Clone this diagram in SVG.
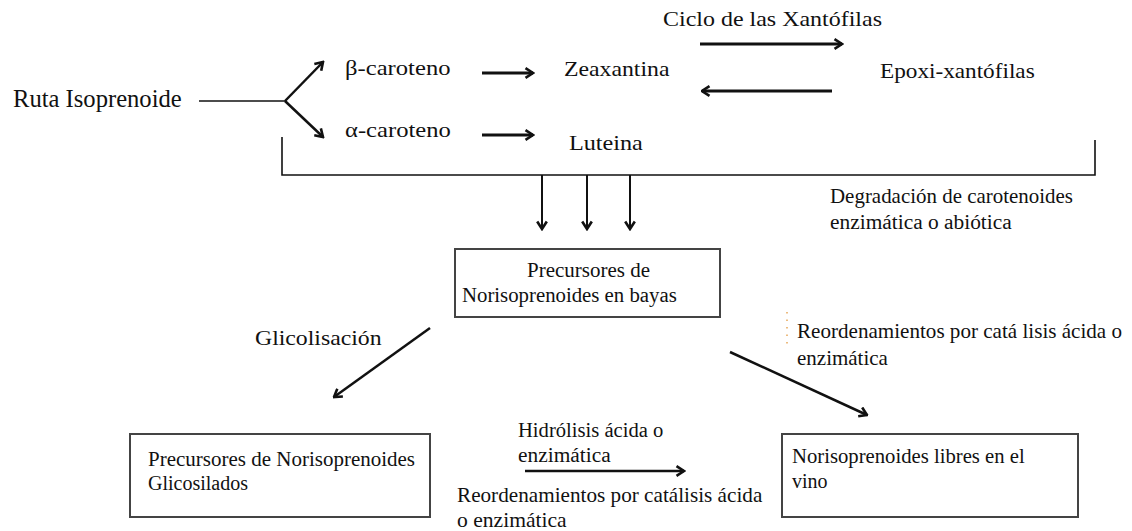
<svg xmlns="http://www.w3.org/2000/svg" width="1132" height="531" viewBox="0 0 1132 531">
<style>
  text { font-family: "Liberation Serif", "Times New Roman", serif; fill: #111; }
  .t24 { font-size: 24.6px; }
  .t22 { font-size: 22px; }
  .t20 { font-size: 20px; }
  .box { fill: #fff; stroke: #444; stroke-width: 2; }
  .ln { fill: none; stroke: #111; }
</style>
<defs>
  <marker id="ah" viewBox="0 0 12 12" markerUnits="userSpaceOnUse" markerWidth="12" markerHeight="12" refX="10.5" refY="6" orient="auto">
    <path d="M3,1.2 L10.5,6 L3,10.8" fill="none" stroke="#111" stroke-width="2.6" stroke-linejoin="miter"/>
  </marker>
</defs>
<rect width="1132" height="531" fill="#fff"/>

<g id="connectors">
  <line class="ln" x1="199" y1="101" x2="285" y2="101" stroke-width="1.5"/>
  <line class="ln" x1="285" y1="101" x2="323" y2="62" stroke-width="2.5" marker-end="url(#ah)"/>
  <line class="ln" x1="285" y1="101" x2="323" y2="137" stroke-width="2.5" marker-end="url(#ah)"/>
  <line class="ln" x1="482" y1="73" x2="533" y2="73" stroke-width="3" marker-end="url(#ah)"/>
  <line class="ln" x1="482" y1="135" x2="533" y2="135" stroke-width="3" marker-end="url(#ah)"/>
  <line class="ln" x1="700" y1="44" x2="842" y2="44" stroke-width="3" marker-end="url(#ah)"/>
  <line class="ln" x1="832" y1="91" x2="702" y2="91" stroke-width="3" marker-end="url(#ah)"/>
  <polyline class="ln" points="282,137 282,175 1095,175 1095,140" stroke="#333" stroke-width="1.6"/>
  <line class="ln" x1="542" y1="175" x2="542" y2="229" stroke-width="2" marker-end="url(#ah)"/>
  <line class="ln" x1="587" y1="175" x2="587" y2="229" stroke-width="2" marker-end="url(#ah)"/>
  <line class="ln" x1="630" y1="175" x2="630" y2="229" stroke-width="2" marker-end="url(#ah)"/>
  <line class="ln" x1="430" y1="328" x2="334" y2="397" stroke-width="2.5" marker-end="url(#ah)"/>
  <line class="ln" x1="730" y1="352" x2="867" y2="415" stroke-width="2.5" marker-end="url(#ah)"/>
  <line class="ln" x1="525" y1="471" x2="684" y2="471" stroke-width="2.5" marker-end="url(#ah)"/>
  <line x1="787" y1="312" x2="787" y2="347" stroke="#e0902e" stroke-width="1.2" stroke-dasharray="1.5 6"/>
</g>

<g id="ruta">
  <text class="t24" x="13" y="107">Ruta Isoprenoide</text>
</g>
<g id="beta-caroteno">
  <text class="t22" transform="translate(345 75) scale(1.12 1)">β-caroteno</text>
</g>
<g id="alfa-caroteno">
  <text class="t22" transform="translate(345 137) scale(1.12 1)">α-caroteno</text>
</g>
<g id="zeaxantina">
  <text class="t22" transform="translate(564 76) scale(1.08 1)">Zeaxantina</text>
</g>
<g id="luteina">
  <text class="t22" transform="translate(569 150) scale(1.1 1)">Luteina</text>
</g>
<g id="ciclo">
  <text class="t22" transform="translate(663 26) scale(1.09 1)">Ciclo de las Xantófilas</text>
</g>
<g id="epoxi">
  <text class="t22" transform="translate(880 78) scale(1.055 1)">Epoxi-xantófilas</text>
</g>
<g id="degradacion">
  <text class="t20" transform="translate(830 203) scale(1.047 1)">Degradación de carotenoides</text>
  <text class="t20" transform="translate(830 229) scale(1.07 1)">enzimática o abiótica</text>
</g>
<g id="precursores-bayas">
  <rect class="box" x="455" y="249" width="265" height="68"/>
  <text class="t20" transform="translate(527 277) scale(1.05 1)">Precursores de</text>
  <text class="t20" transform="translate(462 302) scale(1.04 1)">Norisoprenoides en bayas</text>
</g>
<g id="glicolisacion">
  <text class="t22" transform="translate(255 345) scale(1.08 1)">Glicolisación</text>
</g>
<g id="reordenamientos-1">
  <text class="t20" transform="translate(797 338) scale(1.055 1)">Reordenamientos por catá lisis ácida o</text>
  <text class="t20" transform="translate(797 365) scale(1.05 1)">enzimática</text>
</g>
<g id="precursores-glicosilados">
  <rect class="box" x="130" y="434" width="300" height="83"/>
  <text class="t20" transform="translate(148 466) scale(1.05 1)">Precursores de Norisoprenoides</text>
  <text class="t20" x="148" y="490">Glicosilados</text>
</g>
<g id="hidrolisis">
  <text class="t20" transform="translate(518 437) scale(1.03 1)">Hidrólisis ácida o</text>
  <text class="t20" transform="translate(518 462) scale(1.07 1)">enzimática</text>
</g>
<g id="reordenamientos-2">
  <text class="t20" transform="translate(457 502) scale(1.06 1)">Reordenamientos por catálisis ácida</text>
  <text class="t20" transform="translate(457 527) scale(1.08 1)">o enzimática</text>
</g>
<g id="norisoprenoides-libres">
  <rect class="box" x="782" y="434" width="296" height="83"/>
  <text class="t20" transform="translate(792 463) scale(1.035 1)">Norisoprenoides libres en el</text>
  <text class="t20" x="792" y="488">vino</text>
</g>
</svg>
